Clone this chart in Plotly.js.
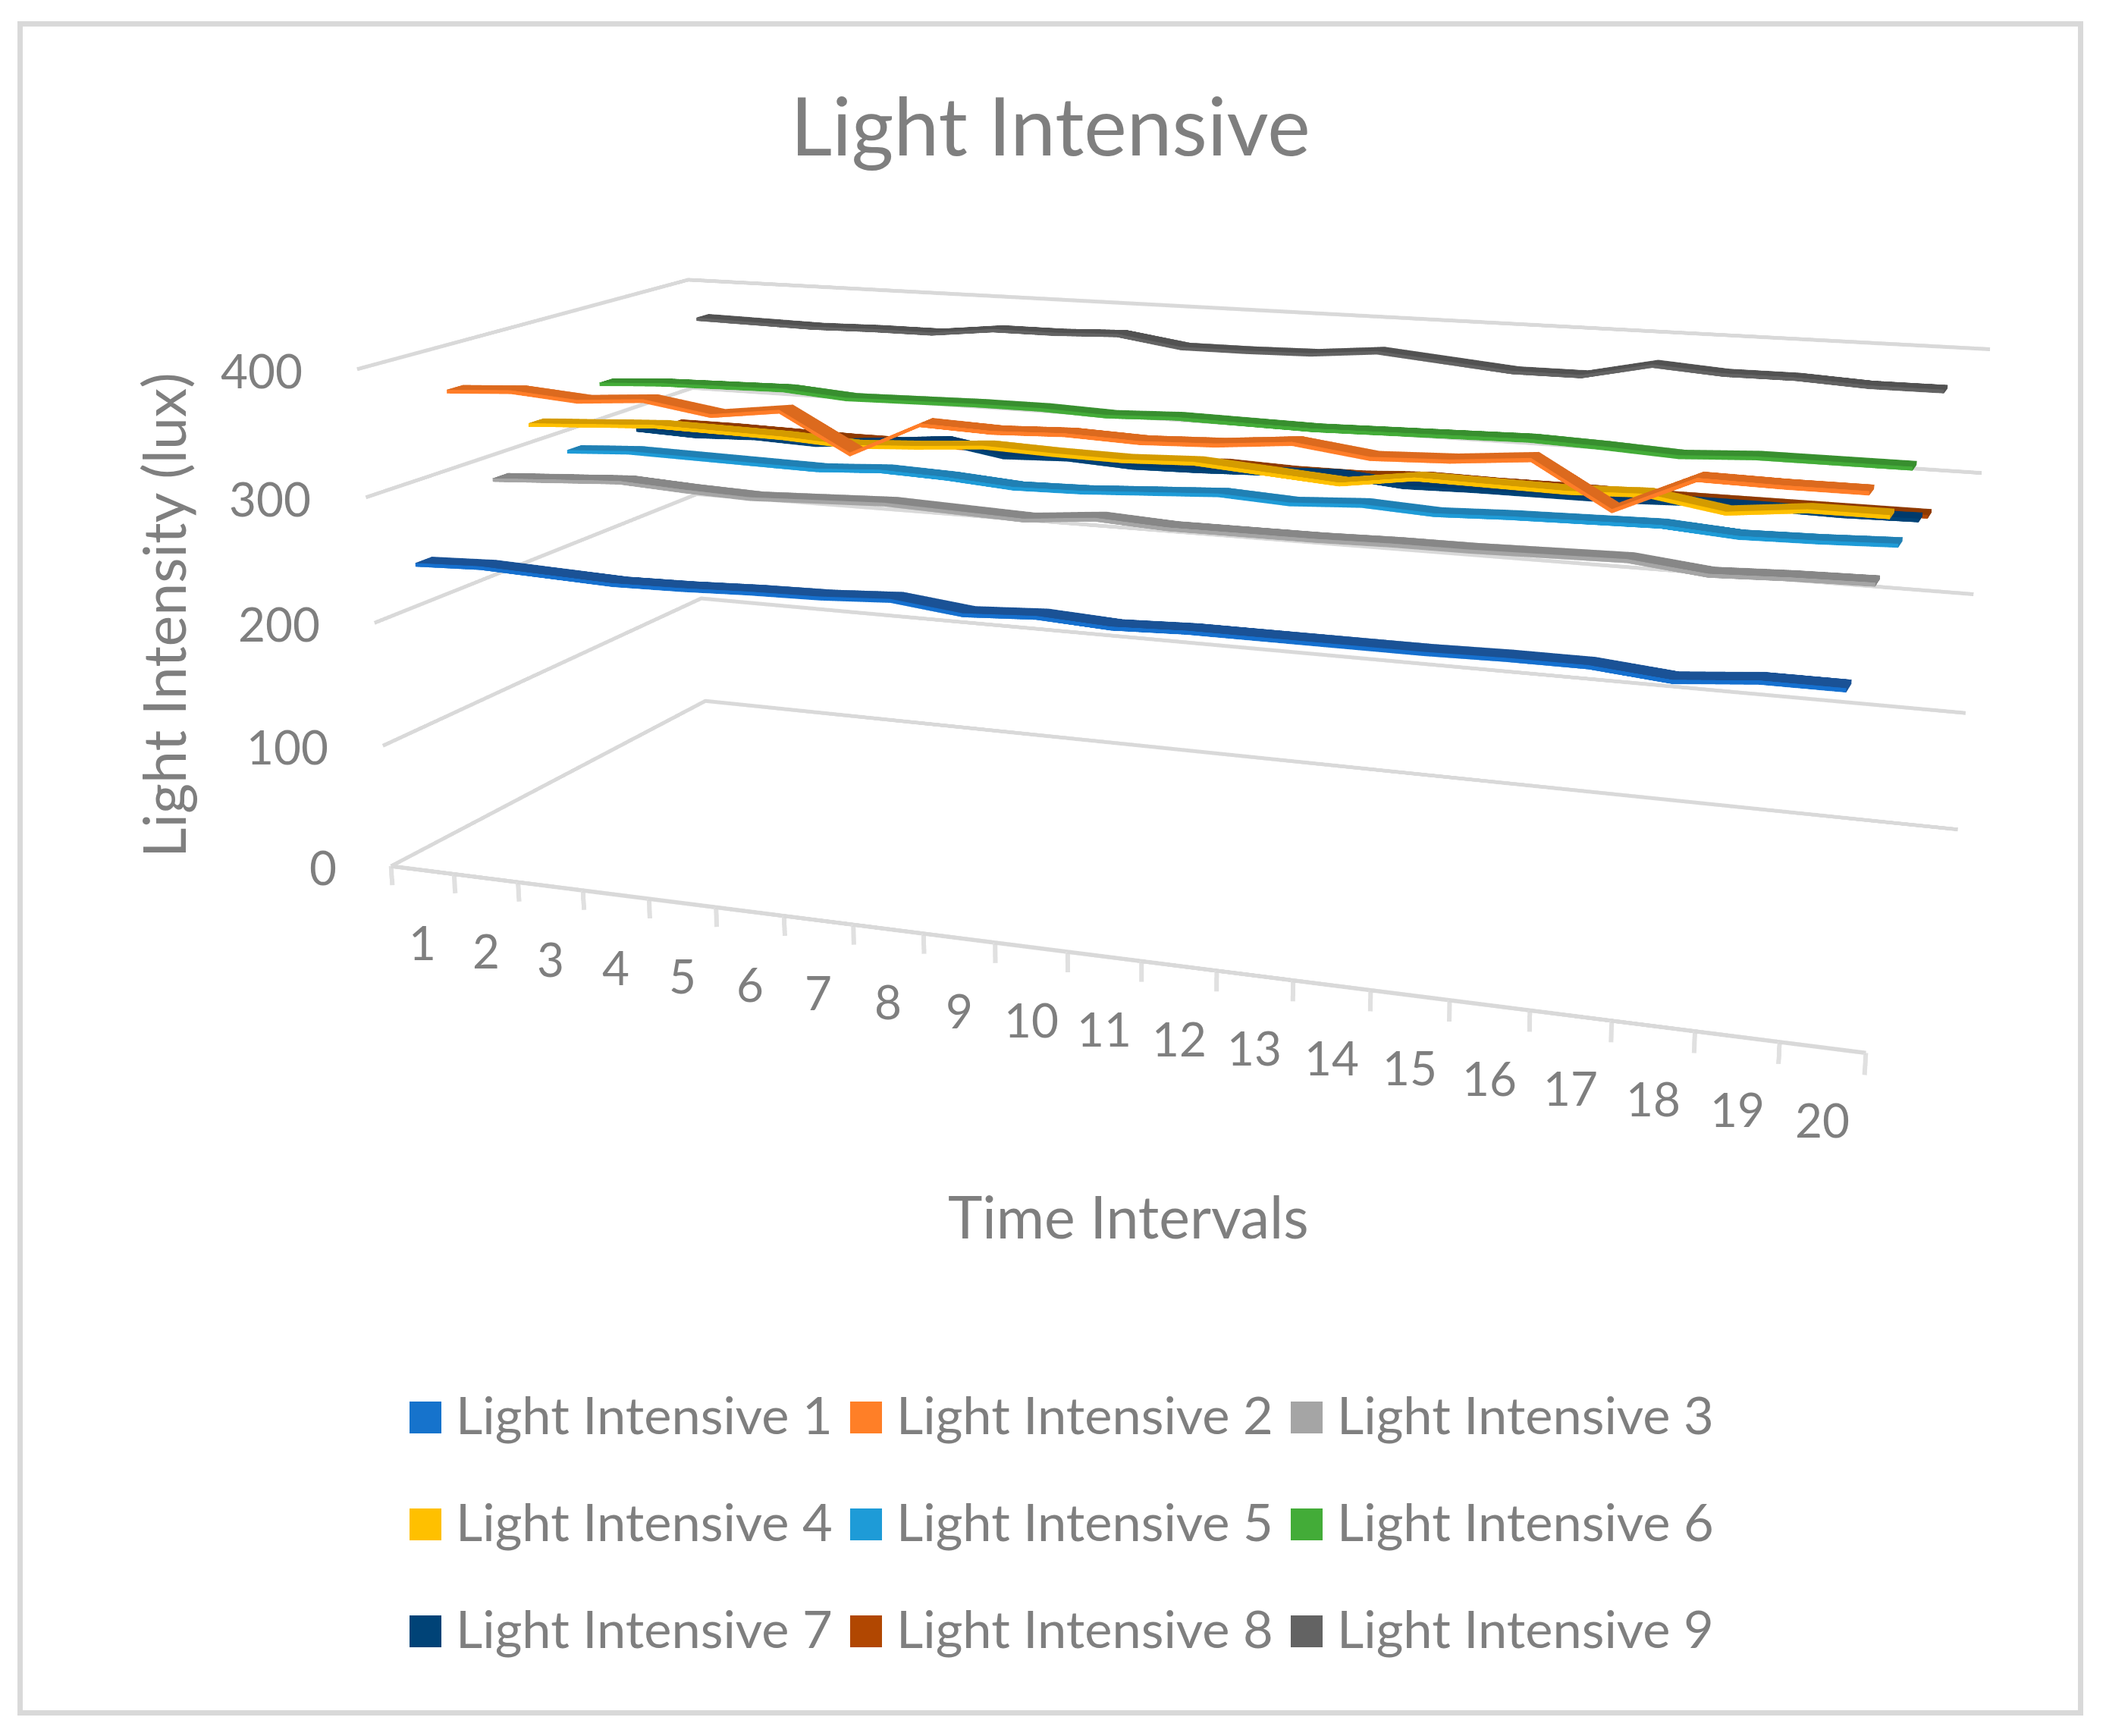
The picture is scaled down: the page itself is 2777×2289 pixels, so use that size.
<!DOCTYPE html><html style="margin:0;height:2289px;overflow:hidden"><head><meta charset="utf-8"><script src="https://cdn.plot.ly/plotly-3.0.1.min.js"></script></head><body style="margin:0;background:#fff;overflow:hidden;height:2289px"><div id="c" style="position:absolute;left:0;top:-837px"></div><script>
const categories=[1,2,3,4,5,6,7,8,9,10,11,12,13,14,15,16,17,18,19,20];
const zTicks=[0,100,200,300,400];
const seriesNames=['Light Intensive 1','Light Intensive 2','Light Intensive 3','Light Intensive 4','Light Intensive 5','Light Intensive 6','Light Intensive 7','Light Intensive 8','Light Intensive 9'];
const light1=[245,247,245,243,244,246,247,250,244,247,244,246,246,246,246,247,247,242,247,247];
const light2=[372,375,371,375,367,374,345,371,369,371,369,371,376,369,371,376,344,370,369,369];
const light3=[290,293,296,293,291,293,295,293,291,296,293,293,293,294,294,295,296,290,292,293];
const light4=[325,328,331,330,329,326,329,333,331,330,332,328,324,332,331,330,332,323,329,329];
const light5=[292,295,294,293,292,295,293,289,290,293,296,293,296,293,295,296,297,293,294,296];
const light6=[340,343,344,345,341,342,343,343,341,343,342,341,342,343,344,342,339,342,342,342];
const light7=[290,288,290,288,293,298,289,291,288,289,291,293,288,289,289,289,291,291,290,291];
const light8=[284,284,283,282,282,282,283,281,281,283,281,281,284,283,283,282,282,282,282,282];
const light9=[371,370,369,370,370,376,376,378,370,370,371,376,371,366,366,378,374,374,371,371];
const frontColors=['#1570cf','#ff7d28','#a5a5a5','#ffc000','#1e9bd7','#43ac38','#004377','#b14701','#636363'];
const topColors=['#1a5296','#dc6a1e','#878787','#d49b00','#2080b4','#388f2f','#003a6b','#8f3a00','#525252'];
const legendColors=['#1673cc','#ff7f27','#a5a5a5','#ffc000','#1e9bd7','#43ac38','#004377','#b14701','#636363'];
const series=[light1,light2,light3,light4,light5,light6,light7,light8,light9];

const W=2777,L=3454,TOP=-837;
const XP=x=>x/W,YP=y=>1-(y-TOP)/L;
const TXT='#7f7f7f',FONT='Lato, "Open Sans", sans-serif';
const flat=c=>({colorscale:[[0,c],[1,c]],cmin:0,cmax:1,showscale:false,hoverinfo:'skip',
  lighting:{ambient:1,diffuse:0,specular:0,roughness:1,fresnel:0},
  contours:{x:{highlight:false},y:{highlight:false},z:{highlight:false}}});
const zeros=(r,c)=>Array.from({length:r},()=>Array(c).fill(0));
const DEPTH=.2,HALF=1.5;
const traces=[];
const gx=[],gy=[],gz=[];
zTicks.forEach(z=>{gx.push(.5,.5,20.5,null);gy.push(0,9,9,null);gz.push(z,z,z,null)});
traces.push({type:'scatter3d',mode:'lines',name:'gridlines',x:gx,y:gy,z:gz,line:{color:'#d9d9d9',width:10},hoverinfo:'skip'});
traces.push({type:'scatter3d',mode:'lines',name:'floor edge',x:[.5,20.5],y:[0,0],z:[0,0],line:{color:'#d9d9d9',width:11},hoverinfo:'skip'});
const tx=[],ty=[],tz=[];
[0,...categories].forEach(k=>{tx.push(k+.5,k+.5,null);ty.push(0,0,null);tz.push(0,-16,null)});
traces.push({type:'scatter3d',mode:'lines',name:'ticks',x:tx,y:ty,z:tz,line:{color:'#e0e0e0',width:12},hoverinfo:'skip'});
series.forEach((v,s)=>{
  const ys=s+.5,n=v.length,a=ys-DEPTH,b=ys+DEPTH;
  const up=v.map(z=>z+HALF),dn=v.map(z=>z-HALF);
  traces.push({type:'surface',name:seriesNames[s],x:[categories,categories],y:[Array(n).fill(a),Array(n).fill(b)],z:[up,up],surfacecolor:zeros(2,n),...flat(topColors[s])});
  traces.push({type:'surface',name:seriesNames[s]+' front',x:[categories,categories],y:[Array(n).fill(a),Array(n).fill(a)],z:[up,dn],surfacecolor:zeros(2,n),...flat(frontColors[s])});
  const e=categories[n-1];
  traces.push({type:'surface',name:seriesNames[s]+' end',x:[[e,e],[e,e]],y:[[a,b],[a,b]],z:[[up[n-1],up[n-1]],[dn[n-1],dn[n-1]]],surfacecolor:zeros(2,2),...flat(topColors[s])});
});
const sceneAnn=[];
categories.forEach(c=>sceneAnn.push({x:c,y:0,z:0,text:String(c),showarrow:false,xanchor:'center',yanchor:'middle',yshift:-95,font:{family:FONT,size:62,color:TXT}}));
zTicks.forEach(z=>sceneAnn.push({x:.5,y:0,z:z,text:String(z),showarrow:false,xanchor:'right',yanchor:'middle',xshift:-70,yshift:-1,font:{family:FONT,size:62,color:TXT}}));
const ann=[
 {xref:'paper',yref:'paper',x:XP(1488),y:YP(1603),text:'Time Intervals',showarrow:false,xanchor:'center',yanchor:'middle',font:{family:FONT,size:77,color:TXT}},
 {xref:'paper',yref:'paper',x:XP(215),y:YP(811),text:'Light Intensity (lux)',showarrow:false,textangle:-90,xanchor:'center',yanchor:'middle',font:{family:FONT,size:77,color:TXT}}];
const shapes=[{type:'rect',xref:'paper',yref:'paper',x0:XP(26.5),x1:XP(2743.5),y0:YP(31.5),y1:YP(2258.5),line:{color:'#d9d9d9',width:7},layer:'below'}];
const colX=[540,1121,1702],rowY=[1848,1989,2130];
seriesNames.forEach((n,i)=>{
  const cx=colX[i%3],ry=rowY[Math.floor(i/3)];
  shapes.push({type:'rect',xref:'paper',yref:'paper',x0:XP(cx),x1:XP(cx+42),y0:YP(ry),y1:YP(ry+42),fillcolor:legendColors[i],line:{width:0}});
  ann.push({xref:'paper',yref:'paper',x:XP(cx+59),y:YP(ry+16),text:n,showarrow:false,xanchor:'left',yanchor:'middle',font:{family:FONT,size:68.6,color:TXT}});
});
Plotly.newPlot('c',traces,{width:W,height:L,margin:{l:0,r:0,t:0,b:0},showlegend:false,paper_bgcolor:'#fff',
 title:{text:'Light Intensive',x:XP(1385),y:YP(168),xref:'paper',yref:'paper',xanchor:'center',yanchor:'middle',font:{family:FONT,size:107,color:TXT}},
 annotations:ann,shapes:shapes,
 scene:{domain:{x:[339/W,1],y:[0,1]},aspectmode:'manual',aspectratio:{x:1,y:.52452,z:.49122},
  camera:{eye:{x:.67892,y:-1.88182,z:.49259},center:{x:-.00491,y:0,z:-.04542},up:{x:0,y:0,z:1}},
  xaxis:{visible:false,range:[0,21]},yaxis:{visible:false,range:[-1,10]},zaxis:{visible:false,range:[-100,500]},annotations:sceneAnn}},{displayModeBar:false});
</script></body></html>
